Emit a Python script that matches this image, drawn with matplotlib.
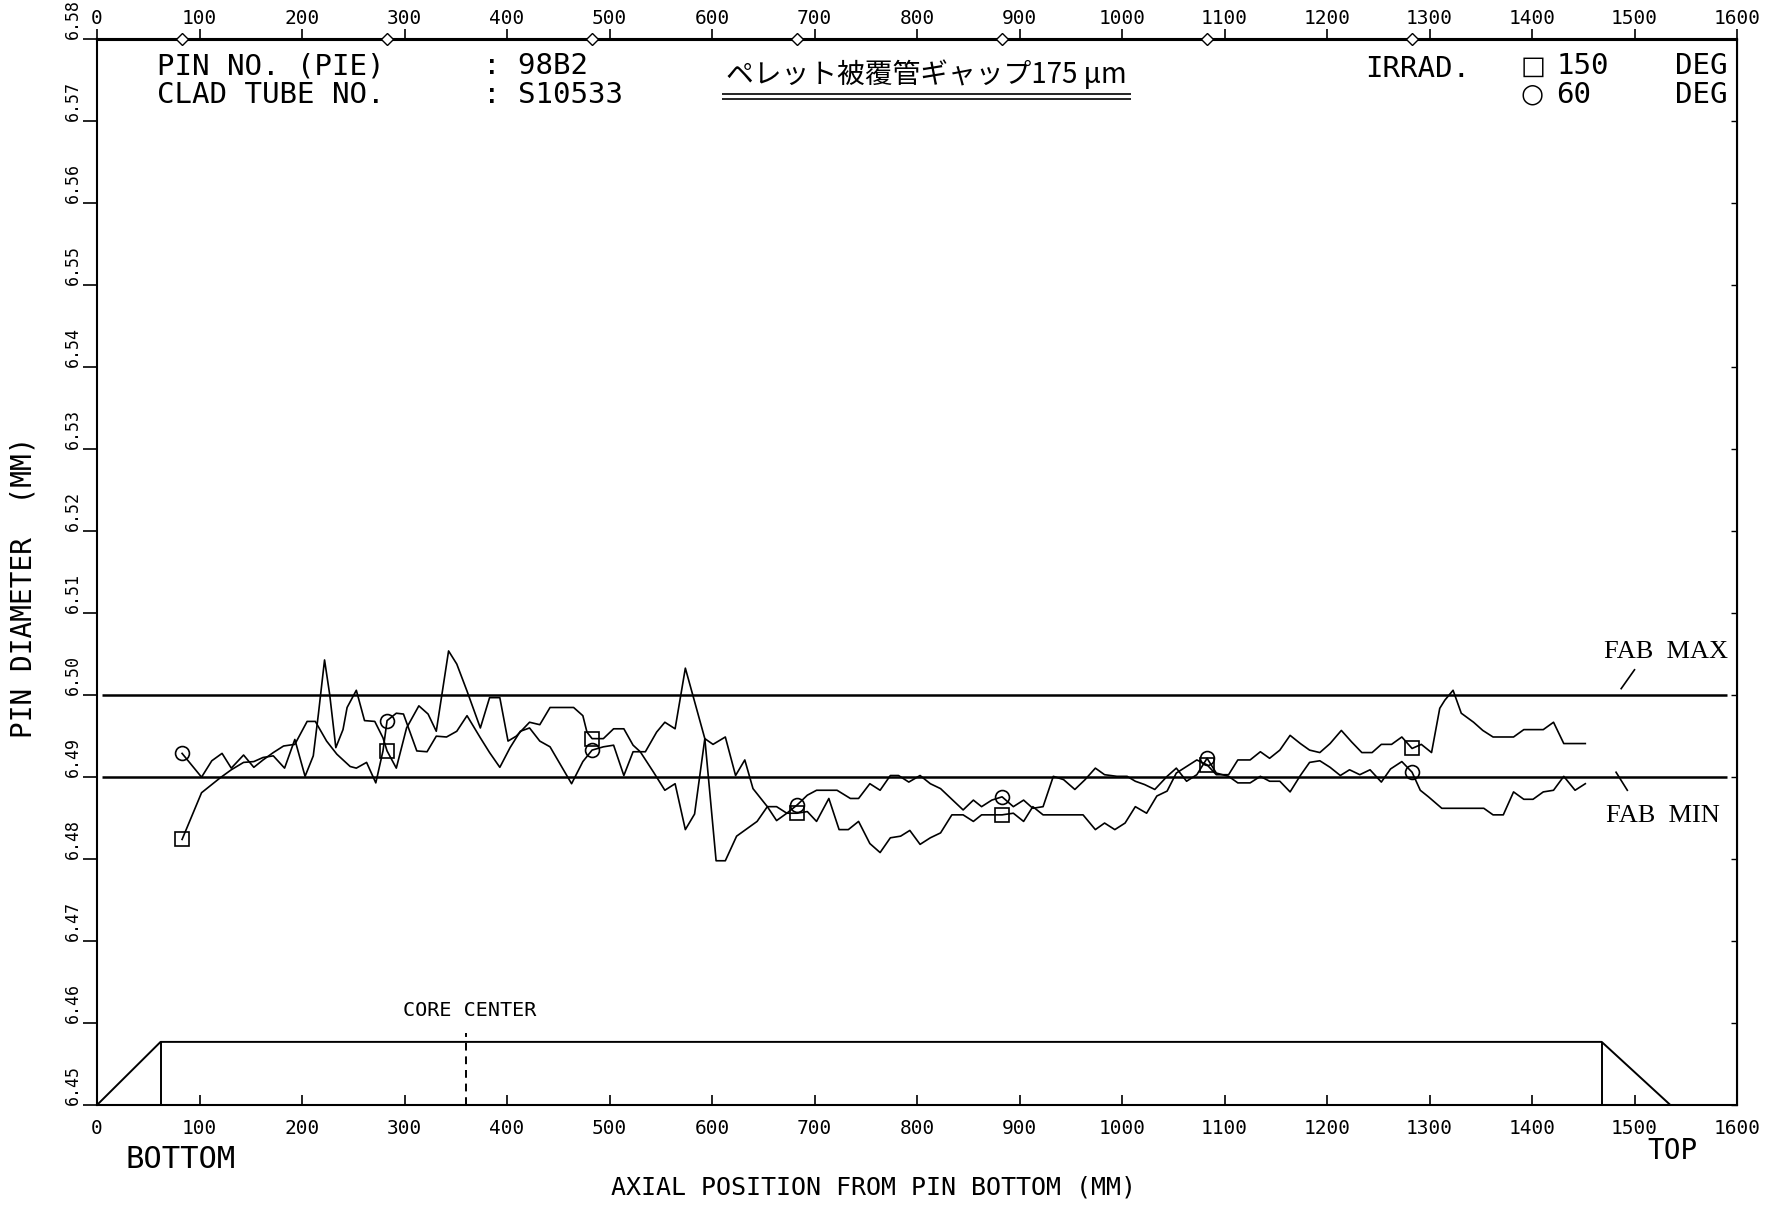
import matplotlib
matplotlib.use('Agg')
import matplotlib.pyplot as plt

# --- measured data (axial position mm, pin diameter mm) ---
# IRRAD. 150 DEG  (square)
x_150 = [83, 102, 120, 131, 143, 153, 162, 172, 183, 193, 203, 211, 216, 222, 227, 233, 240, 244,
         253, 261, 271, 279, 283, 292, 302, 314, 323, 331, 343, 351, 361, 374, 383, 393, 401, 409,
         422, 432, 442, 465, 474, 478, 483, 494, 504, 514, 523, 530, 543, 554, 564, 574, 583, 593,
         601, 613, 623, 632, 640, 654, 663, 673, 683, 693, 702, 714, 724, 733, 743, 754, 764, 774,
         784, 793, 803, 813, 823, 834, 845, 855, 863, 873, 883, 894, 904, 913, 923, 962, 974, 983,
         993, 1003, 1013, 1024, 1034, 1044, 1053, 1063, 1073, 1083, 1092, 1104, 1113, 1125, 1135,
         1144, 1154, 1164, 1174, 1183, 1193, 1203, 1214, 1224, 1234, 1244, 1253, 1263, 1273, 1283,
         1292, 1302, 1310, 1315, 1323, 1331, 1343, 1352, 1362, 1382, 1392, 1411, 1421, 1431, 1452]
d_150 = [6.4824, 6.4881, 6.4899, 6.4909, 6.4918, 6.4919, 6.4924, 6.4926, 6.4911, 6.4946, 6.4901,
         6.4926, 6.4977, 6.5043, 6.5001, 6.4936, 6.4958, 6.4985, 6.5006, 6.4969, 6.4968, 6.4948,
         6.4932, 6.4911, 6.4960, 6.4987, 6.4977, 6.4956, 6.5054, 6.5038, 6.5005, 6.4960, 6.4997,
         6.4997, 6.4944, 6.4950, 6.4967, 6.4964, 6.4985, 6.4985, 6.4975, 6.4955, 6.4947, 6.4947,
         6.4959, 6.4959, 6.4939, 6.4931, 6.4906, 6.4884, 6.4892, 6.4836, 6.4855, 6.4947, 6.4940,
         6.4949, 6.4902, 6.4921, 6.4886, 6.4864, 6.4847, 6.4856, 6.4856, 6.4858, 6.4846, 6.4874,
         6.4836, 6.4836, 6.4846, 6.4819, 6.4808, 6.4826, 6.4828, 6.4835, 6.4818, 6.4826, 6.4832,
         6.4854, 6.4854, 6.4846, 6.4854, 6.4854, 6.4854, 6.4856, 6.4846, 6.4864, 6.4854, 6.4854,
         6.4836, 6.4844, 6.4836, 6.4844, 6.4864, 6.4856, 6.4877, 6.4883, 6.4905, 6.4913, 6.4921,
         6.4915, 6.4903, 6.4903, 6.4921, 6.4921, 6.4931, 6.4923, 6.4933, 6.4951, 6.4941, 6.4933,
         6.4930, 6.4941, 6.4957, 6.4943, 6.4930, 6.4930, 6.4940, 6.4940, 6.4949, 6.4935, 6.4940,
         6.4930, 6.4984, 6.4994, 6.5006, 6.4978, 6.4967, 6.4957, 6.4949, 6.4949, 6.4958, 6.4958,
         6.4967, 6.4941, 6.4941]

# IRRAD. 60 DEG  (circle)
x_60 = [83, 102, 112, 122, 131, 143, 153, 162, 172, 182, 193, 205, 213, 224, 234, 247, 253, 263,
        272, 279, 283, 292, 299, 312, 322, 331, 341, 351, 361, 374, 383, 393, 403, 413, 422, 432,
        442, 463, 474, 483, 494, 504, 514, 523, 535, 546, 554, 564, 574, 593, 604, 613, 624, 644,
        654, 663, 673, 683, 693, 702, 722, 735, 743, 754, 764, 774, 782, 792, 803, 813, 823, 845,
        855, 863, 873, 883, 894, 904, 913, 923, 933, 943, 954, 964, 974, 983, 995, 1005, 1013,
        1022, 1032, 1044, 1053, 1063, 1073, 1083, 1092, 1104, 1113, 1125, 1135, 1144, 1154, 1164,
        1174, 1183, 1193, 1203, 1213, 1222, 1232, 1242, 1253, 1262, 1273, 1283, 1291, 1299, 1312,
        1353, 1362, 1372, 1382, 1392, 1401, 1411, 1421, 1431, 1442, 1452]
d_60 = [6.4929, 6.4900, 6.4920, 6.4929, 6.4911, 6.4927, 6.4912, 6.4921, 6.4930, 6.4938, 6.4940,
        6.4968, 6.4968, 6.4944, 6.4928, 6.4913, 6.4911, 6.4918, 6.4893, 6.4932, 6.4969, 6.4978,
        6.4977, 6.4932, 6.4931, 6.4950, 6.4949, 6.4956, 6.4975, 6.4948, 6.4930, 6.4912, 6.4936,
        6.4956, 6.4960, 6.4944, 6.4937, 6.4892, 6.4919, 6.4933, 6.4937, 6.4939, 6.4902, 6.4931,
        6.4931, 6.4955, 6.4967, 6.4959, 6.5033, 6.4947, 6.4798, 6.4798, 6.4828, 6.4846, 6.4864,
        6.4864, 6.4856, 6.4866, 6.4878, 6.4884, 6.4884, 6.4874, 6.4874, 6.4892, 6.4884, 6.4902,
        6.4902, 6.4894, 6.4902, 6.4892, 6.4886, 6.4860, 6.4872, 6.4864, 6.4872, 6.4876, 6.4864,
        6.4872, 6.4862, 6.4864, 6.4901, 6.4897, 6.4885, 6.4897, 6.4911, 6.4903, 6.4901, 6.4901,
        6.4895, 6.4891, 6.4885, 6.4901, 6.4911, 6.4895, 6.4903, 6.4923, 6.4905, 6.4901, 6.4893,
        6.4893, 6.4901, 6.4895, 6.4895, 6.4882, 6.4902, 6.4918, 6.4920, 6.4912, 6.4902, 6.4909,
        6.4903, 6.4909, 6.4894, 6.4910, 6.4919, 6.4906, 6.4884, 6.4876, 6.4862, 6.4862, 6.4854,
        6.4854, 6.4882, 6.4873, 6.4873, 6.4882, 6.4884, 6.4901, 6.4884, 6.4892]

mark_pos = [83, 283, 483, 683, 883, 1083, 1283]   # symbol positions
fab_max = 6.500
fab_min = 6.490
core_center = 360
col_x = [0, 62, 1468, 1535]            # fuel column outline
col_y = [6.45, 6.4577, 6.4577, 6.45]

x_ticks = list(range(0, 1601, 100))
y_ticks = [6.45, 6.46, 6.47, 6.48, 6.49, 6.50, 6.51, 6.52, 6.53, 6.54, 6.55, 6.56, 6.57, 6.58]

plt.rcParams['font.family'] = ['DejaVu Sans Mono', 'DejaVu Sans']

fig = plt.figure(figsize=(17.69, 12.05), dpi=100)
ax = fig.add_axes([97 / 1769, 1 - 1105 / 1205, 1640 / 1769, 1065.5 / 1205])
ax.set_xlim(0, 1600)
ax.set_ylim(6.45, 6.58)
for s in ax.spines.values():
    s.set_linewidth(1.5)

# ticks
ax.set_xticks(x_ticks)
ax.set_xticklabels([str(v) for v in x_ticks])
ax.tick_params(axis='x', direction='in', length=7, width=1.2, pad=10, labelsize=14)
top = ax.secondary_xaxis('top')
top.set_xticks(x_ticks)
top.set_xticklabels([str(v) for v in x_ticks])
top.tick_params(direction='out', length=7, width=1.2, pad=1, labelsize=14)
top.spines['top'].set_linewidth(1.5)

ax.set_yticks(y_ticks)
ax.set_yticklabels([f'{v:.2f}' for v in y_ticks], rotation=90, va='bottom')
ax.tick_params(axis='y', direction='out', length=10, width=1.2, pad=1, labelsize=12)
right = ax.secondary_yaxis('right')
right.set_yticks(y_ticks)
right.set_yticklabels([])
right.tick_params(direction='in', length=4, width=1)

# FAB limits
ax.hlines([fab_max, fab_min], 5, 1590, colors='black', linewidth=1.8)

# measured diameters
mk150 = [i for i, v in enumerate(x_150) if v in mark_pos]
mk60 = [i for i, v in enumerate(x_60) if v in mark_pos]
ax.plot(x_150, d_150, color='black', lw=1.2, marker='s', markevery=mk150,
        ms=10, mfc='none', mec='black', mew=1.2)
ax.plot(x_60, d_60, color='black', lw=1.2, marker='o', markevery=mk60,
        ms=10, mfc='none', mec='black', mew=1.2)

# symbol positions on top axis
ax.plot(mark_pos, [6.58] * len(mark_pos), ls='none', marker='D', ms=6,
        mfc='white', mec='black', mew=1.0, clip_on=False, zorder=5)

# fuel column outline
ax.plot(col_x, col_y, color='black', lw=1.4)
ax.vlines([col_x[1], col_x[2]], 6.45, col_y[1], colors='black', lw=1.4)
ax.vlines(core_center, 6.45, 6.4588, colors='black', lw=1.4, linestyles=(0, (4, 3)))
ax.text(core_center + 4, 6.4604, 'CORE CENTER', ha='center', va='bottom', fontsize=14.5)

# header (two-line blocks)
hy = 6.57495
ax.text(59, hy, 'PIN NO. (PIE)\nCLAD TUBE NO.', ha='left', va='center', fontsize=21,
        linespacing=1.05)
ax.text(377, hy, ': 98B2\n: S10533', ha='left', va='center', fontsize=21, linespacing=1.05)
ax.text(809, 6.5757, 'ペレット被覆管ギャップ175 μm', ha='center', va='center', fontsize=20,
        family=['Noto Sans CJK JP', 'DejaVu Sans'])
ax.hlines([6.5733, 6.5728], 610, 1009, colors='black', lw=1.2)
ax.text(1237, 6.5764, 'IRRAD.', ha='left', va='center', fontsize=21)
ax.text(1389, hy, '□\n○', ha='left', va='center', fontsize=19, linespacing=1.1,
        family=['DejaVu Sans'])
ax.text(1424, hy, '150\n60', ha='left', va='center', fontsize=21, linespacing=1.05)
ax.text(1591, hy, 'DEG\nDEG', ha='right', va='center', fontsize=21, linespacing=1.05)

# FAB labels
ax.text(1591, 6.5053, 'FAB  MAX', ha='right', va='center', fontsize=19, family='Liberation Serif')
ax.plot([1487, 1500], [6.5008, 6.5031], color='black', lw=1.2)
ax.text(1583, 6.4853, 'FAB  MIN', ha='right', va='center', fontsize=19, family='Liberation Serif')
ax.plot([1482, 1493], [6.4906, 6.4884], color='black', lw=1.2)

# axis texts
ax.text(82, 6.4433, 'BOTTOM', ha='center', va='center', fontsize=22)
ax.text(1537, 6.4444, 'TOP', ha='center', va='center', fontsize=20)
ax.text(758, 6.4399, 'AXIAL POSITION FROM PIN BOTTOM (MM)', ha='center', va='center', fontsize=18)
ax.text(-72, 6.5132, 'PIN DIAMETER  (MM)', ha='center', va='center', rotation=90, fontsize=20)

plt.savefig('out.png', dpi=100)
